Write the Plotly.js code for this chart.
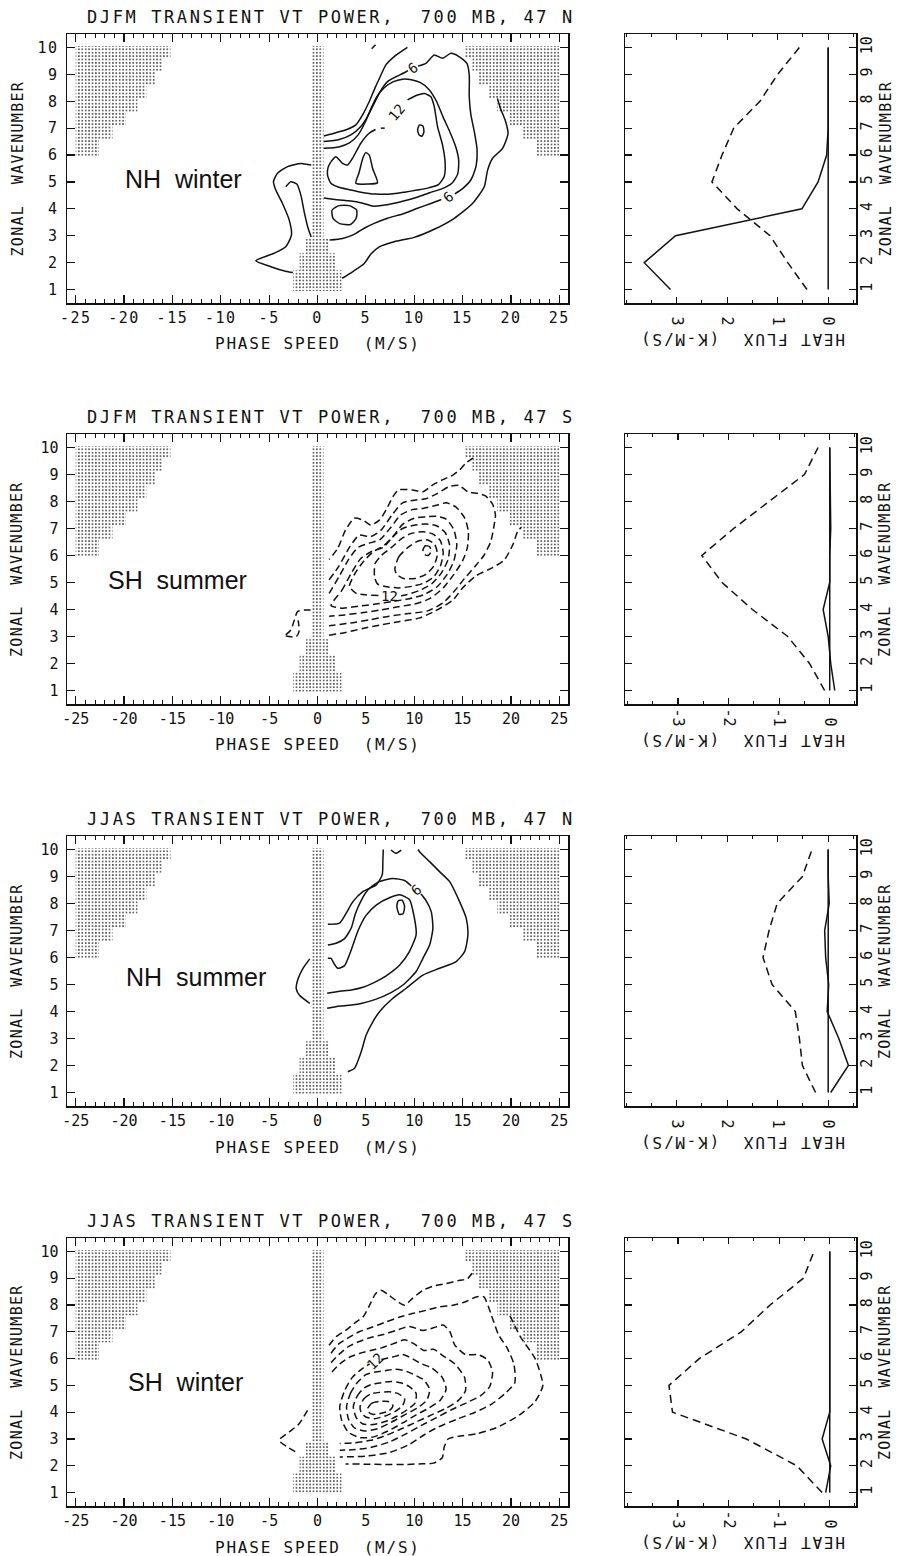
<!DOCTYPE html>
<html><head><meta charset="utf-8">
<script src="https://cdn.plot.ly/plotly-3.0.1.min.js"></script>
<style>
html,body{margin:0;padding:0;background:#fff;}
#chart{width:898px;height:1556px;}
.xtick text,.ytick text{letter-spacing:1.5px;}
text.annotation-text[data-unformatted*="TRANSIENT"]{letter-spacing:2.6px;}
text.annotation-text[data-unformatted*="SPEED"],text.annotation-text[data-unformatted*="FLUX"]{letter-spacing:1.8px;}
text.annotation-text[data-unformatted*="ZONAL"]{letter-spacing:1.3px;}
</style></head><body><div id="chart"></div><script>
// ---------------- data ----------------
const wavenumbers = [1,2,3,4,5,6,7,8,9,10];
const phaseTicks = [-25,-20,-15,-10,-5,0,5,10,15,20,25];
const phaseTickText = ['-25','-20','-15','-10','-5','0','5','10','15','20','25'];
const heatTicksPos = [0,1,2,3], heatTextPos = ['\u00a00','\u00a01','\u00a02','\u00a03'];
const heatTicksNeg = [-3,-2,-1,0], heatTextNeg = ['-3','-2','-1','\u00a00'];

const rowTitles = ['DJFM TRANSIENT VT POWER,\u00a0 700 MB, 47 N','DJFM TRANSIENT VT POWER,\u00a0 700 MB, 47 S',
                   'JJAS TRANSIENT VT POWER,\u00a0 700 MB, 47 N','JJAS TRANSIENT VT POWER,\u00a0 700 MB, 47 S'];
const seasonLabels = ['NH\u00a0 winter','SH\u00a0 summer','NH\u00a0 summer','SH\u00a0 winter'];
const seasonPos = [[-13.9,5.1],[-14.5,5.1],[-12.6,5.28],[-13.6,5.14]];

// heat flux profiles (K m/s) by wavenumber
const r1HeatDashed = [0.42,0.8,1.15,1.8,2.3,2.1,1.87,1.35,1.0,0.57];
const r1HeatSolid  = [3.12,3.64,3.02,0.52,0.2,0.03,0,0,0,0];
const r1HeatZero   = [0,0,0,0,0,0,0,0,0,0];
const r2HeatDashed = [-0.1,-0.4,-0.83,-1.53,-2.13,-2.53,-1.9,-1.2,-0.5,-0.23];
const r2HeatSolid  = [0.1,0.02,-0.03,-0.13,0.0,0.0,0.02,0.01,0,0];
const r2HeatZero   = [0,0,0,0,0,0,0,0,0,0];
const r3HeatDashed = [0.25,0.51,0.57,0.65,1.11,1.29,1.17,1.01,0.51,0.32];
const r3HeatSolid  = [-0.05,-0.4,-0.21,0.02,-0.01,0.05,0.07,-0.02,0,0];
const r3HeatZero   = [0,0,0,0,0,0,0,0,0,0];
const r4HeatDashed = [-0.15,-0.65,-1.65,-3.11,-3.18,-2.58,-1.75,-1.18,-0.52,-0.31];
const r4HeatSolid  = [-0.08,0.02,-0.15,0,0,0,0,0,0,0];
const r4HeatZero   = [0,0,0,0,0,0,0,0,0,0];

// stippled (unresolved) regions
const stairK = [10.05,9.6,9.1,8.6,8.1,7.6,7.1,6.6,5.95];
const stairC = [15.2,16.0,16.7,17.7,18.6,19.8,21.2,22.6];
const stripK = [10.05,2.9,2.35,1.72,0.95];
const stripC = [0.62,1.2,1.85,2.5];

// ---- NH winter (DJFM 47N) contours, solid ----
const nhwTopTick = [[5.6,9.95],[6.0,10.1]];
const nhwC3Left = [[-0.65,5.63],[-1.72,5.69],[-3.1,5.57],[-4.14,5.32],[-4.55,5.01],[-4.31,4.7],[-3.62,4.2],[-2.93,3.59],[-2.69,3.03],[-3.28,2.59],[-4.48,2.35],[-6.38,2.07],[-4.83,1.85],[-3.3,1.68],[-2.55,1.63]];
const nhwC6Left = [[-3.28,4.82],[-2.76,5.01],[-2.14,4.92],[-1.72,4.51],[-1.38,3.9],[-0.97,3.28],[-0.65,2.95]];
const nhwC3Top = [[0.65,6.71],[1.9,6.83],[3.1,6.96],[3.97,7.12],[4.66,7.49],[5.34,7.98],[5.93,8.48],[6.48,8.91],[7.07,9.35],[7.93,9.66],[8.79,9.88],[9.3,10.0]];
const nhwC3Right = [[2.55,1.42],[3.62,1.66],[4.83,1.97],[5.52,2.32],[6.38,2.59],[7.93,2.78],[10.0,2.94],[12.07,3.24],[14.14,3.65],[16.03,4.2],[17.24,4.82],[17.59,5.44],[18.1,5.88],[19.14,6.25],[19.7,6.8],[19.4,7.3],[18.9,7.75],[18.6,8.1]];
const nhwC6TopA = [[0.65,6.5],[2.24,6.58],[3.45,6.75],[4.48,7.06],[5.17,7.43],[5.86,7.92],[6.48,8.36],[7.24,8.73],[8.1,8.91],[8.97,9.06],[9.35,9.14]];
const nhwC6TopB = [[10.41,9.31],[11.21,9.41],[12.07,9.72],[12.93,9.6],[13.79,9.78],[14.55,9.68],[15.45,9.41],[15.69,8.98],[15.69,8.17],[15.86,7.49],[16.2,6.9],[16.5,6.2],[16.4,5.6],[15.9,5.1],[15.0,4.75],[14.2,4.56]];
const nhwC6Bottom = [[12.8,4.35],[11.72,4.2],[10.34,4.02],[8.97,3.83],[7.24,3.65],[5.86,3.46],[4.83,3.28],[3.79,3.05],[2.59,2.9],[1.25,2.84]];
const nhwC9 = [[0.65,6.25],[2.2,6.3],[3.3,6.45],[4.2,6.75],[4.9,7.2],[5.5,7.7],[6.1,8.15],[6.9,8.5],[7.8,8.72],[8.8,8.82],[9.7,8.8],[10.6,8.7],[11.5,8.45],[12.3,8.0],[13.0,7.4],[13.7,6.85],[14.3,6.3],[14.6,5.8],[14.5,5.3],[13.9,4.95],[12.9,4.75],[11.6,4.6],[10.2,4.42],[8.7,4.27],[7.2,4.15],[5.8,4.1],[4.6,4.22],[3.2,4.3],[1.8,4.35],[0.65,4.4]];
const nhwC12A = [[1.38,5.75],[1.9,5.94],[2.59,5.69],[3.1,5.63],[3.62,5.88],[4.48,6.44],[5.34,6.81],[6.0,6.95]];
const nhwC12Dash = [[6.55,7.0],[6.95,7.0]];
const nhwC12B = [[9.31,8.05],[10.34,8.23],[11.03,8.29],[11.72,8.17],[12.07,7.8],[12.41,7.06],[12.93,6.37],[13.2,5.69],[13.1,5.2],[12.5,4.9],[11.5,4.78],[10.3,4.7],[9.0,4.62],[7.6,4.55],[6.0,4.55],[4.5,4.62],[3.2,4.72],[2.2,4.8],[1.38,4.95],[1.03,5.26],[1.1,5.55],[1.38,5.75]];
const nhwPeakA = [[3.97,4.95],[4.3,5.35],[4.7,5.9],[5.0,6.09],[5.35,6.0],[5.7,5.5],[6.2,4.97],[5.2,4.92],[3.97,4.95]];
const nhwPeakB = [[10.5,6.75],[10.35,6.95],[10.55,7.12],[10.9,7.08],[11.0,6.85],[10.8,6.7],[10.5,6.75]];
const nhwPeakC = [[1.5,3.95],[2.2,4.12],[3.3,4.12],[4.05,3.95],[4.0,3.65],[3.4,3.42],[2.3,3.45],[1.6,3.65],[1.5,3.95]];

// ---- SH summer (DJFM 47S) contours, dashed ----
const shsA_bottom = [[1.2,3.05],[2.9,3.15],[4.7,3.3],[6.4,3.42],[8.4,3.55],[10.5,3.68],[12.2,3.95],[14.0,4.35],[15.0,4.8],[16.4,5.25],[18.1,5.55],[19.3,5.83],[20.2,6.4],[20.7,6.9],[21.1,7.05]];
const shsA_top = [[16.1,9.62],[15.3,9.41],[14.7,9.17],[14.0,8.98],[12.9,8.8],[11.9,8.61],[10.9,8.36],[9.8,8.43],[8.4,8.43],[7.8,8.18],[7.1,7.69],[6.4,7.31],[5.5,7.13],[4.7,7.31],[3.8,7.38],[2.9,6.94],[2.1,6.27],[1.2,5.85]];
const shsB = [[1.2,5.1],[2.2,5.6],[3.3,6.3],[4.3,6.75],[5.5,6.7],[6.6,6.95],[7.7,7.5],[8.8,7.95],[10.0,8.05],[11.2,8.1],[12.4,8.3],[13.6,8.55],[14.6,8.6],[15.6,8.35],[16.6,8.3],[17.4,8.2],[18.1,7.9],[18.4,7.5],[18.2,7.0],[17.9,6.5],[17.2,6.0],[16.3,5.6],[15.2,5.15],[14.2,4.7],[13.0,4.25],[11.4,3.95],[9.4,3.85],[7.4,3.75],[5.4,3.62],[3.4,3.5],[1.2,3.4]];
const shsC = [[1.2,4.6],[2.2,5.2],[3.2,5.85],[4.2,6.3],[5.3,6.45],[6.5,6.6],[7.6,7.05],[8.6,7.5],[9.8,7.7],[11.0,7.75],[12.2,7.85],[13.3,7.95],[14.3,7.8],[15.2,7.4],[15.6,6.9],[15.5,6.3],[15.0,5.8],[14.1,5.3],[13.0,4.8],[11.6,4.4],[10.0,4.2],[8.3,4.1],[6.5,3.98],[4.6,3.88],[2.8,3.8],[1.2,3.75]];
const shsD = [[1.4,4.15],[2.5,4.7],[3.5,5.35],[4.5,5.9],[5.6,6.15],[6.8,6.3],[7.8,6.7],[8.8,7.15],[10.0,7.38],[11.2,7.43],[12.3,7.45],[13.3,7.35],[14.1,6.95],[14.4,6.4],[14.1,5.8],[13.4,5.3],[12.4,4.85],[11.0,4.55],[9.5,4.4],[7.8,4.3],[6.0,4.2],[4.2,4.12],[2.6,4.05],[1.4,4.15]];
const shsE = [[6.3,4.52],[5.0,4.54],[4.0,4.6],[3.3,4.85],[3.9,5.35],[4.8,5.8],[5.8,6.15],[6.8,6.35],[7.8,6.7],[8.8,7.0],[10.0,7.12],[11.2,7.17],[12.3,7.1],[13.2,6.85],[13.65,6.4],[13.5,5.85],[12.8,5.35],[11.8,4.95],[10.5,4.7],[9.2,4.55],[8.5,4.5]];
const shsF = [[5.9,5.2],[5.95,5.7],[6.6,6.0],[7.6,6.28],[8.6,6.6],[9.7,6.82],[10.9,6.88],[11.9,6.8],[12.7,6.55],[13.0,6.1],[12.7,5.6],[12.0,5.2],[11.0,4.98],[9.8,4.86],[8.4,4.8],[7.0,4.85],[6.2,4.95],[5.9,5.2]];
const shsG = [[8.0,5.5],[8.4,5.95],[9.3,6.28],[10.3,6.52],[11.3,6.58],[12.1,6.42],[12.4,6.05],[12.0,5.6],[11.2,5.3],[10.1,5.15],[8.9,5.15],[8.2,5.3],[8.0,5.5]];
const shsH = [[10.9,6.2],[11.15,6.36],[11.6,6.33],[11.75,6.15],[11.45,6.0],[11.05,6.04],[10.9,6.2]];
const shsLeftA = [[-3.28,3.06],[-2.76,3.24],[-2.4,3.6],[-2.07,3.92],[-1.38,3.98],[-0.65,3.98]];
const shsLeftB = [[-3.28,3.02],[-2.76,2.99],[-2.2,2.99],[-1.9,3.2],[-2.0,3.6]];

// ---- NH summer (JJAS 47N) contours, solid ----
const nhsOuterTop = [[1.07,7.23],[2.28,7.27],[2.97,7.64],[3.66,8.07],[4.69,8.44],[6.07,8.69],[6.69,9.06],[6.76,9.6],[6.8,10.0]];
const nhsTopV = [[7.6,9.98],[8.1,9.86],[8.66,9.98]];
const nhsOuterRight = [[10.4,10.0],[10.55,9.92],[11.59,9.55],[12.62,9.18],[13.66,8.81],[14.69,8.07],[15.38,7.45],[15.55,6.83],[15.21,6.22],[14.34,5.85],[12.62,5.6],[10.9,5.35],[9.17,4.86],[7.79,4.49],[6.41,3.99],[5.72,3.62],[5.03,3.13],[4.52,2.51],[3.83,1.9],[3.14,1.77]];
const nhsLeft = [[-0.8,5.95],[-1.5,5.6],[-2.0,5.22],[-2.2,4.85],[-1.86,4.6],[-0.8,4.3]];
const nhsB1 = [[1.07,6.46],[1.93,6.53],[2.8,6.7],[3.5,7.1],[3.9,7.6],[4.5,8.1],[5.2,8.5],[6.3,8.8],[7.8,8.93],[9.0,8.85],[9.7,8.65]];
const nhsB2 = [[10.7,8.35],[11.24,8.1],[11.76,7.7],[11.93,7.08],[11.59,6.46],[10.9,5.97],[10.2,5.48],[8.9,5.0],[7.6,4.7],[6.0,4.45],[4.5,4.3],[3.0,4.22],[1.9,4.18],[1.0,4.12]];
const nhsC = [[1.07,5.97],[1.4,5.97],[1.75,5.75],[2.1,5.6],[2.8,5.7],[3.3,6.1],[3.7,6.5],[4.2,7.0],[5.0,7.55],[6.1,7.95],[7.5,8.22],[8.5,8.32],[9.5,8.15],[10.0,7.5],[10.2,6.85],[9.5,6.22],[8.5,5.72],[7.1,5.32],[6.0,5.1],[4.7,4.9],[3.5,4.8],[2.3,4.75],[1.0,4.68]];
const nhsPeak = [[8.2,7.9],[8.35,8.1],[8.75,8.12],[9.0,7.9],[8.85,7.62],[8.45,7.6],[8.2,7.9]];

// ---- SH winter (JJAS 47S) contours, dashed ----
const shwA_top = [[1.2,6.5],[1.9,6.81],[2.9,7.05],[4.0,7.37],[4.7,7.55],[5.3,7.93],[6.0,8.42],[6.55,8.55],[7.2,8.42],[8.1,8.17],[9.0,7.99],[9.8,8.24],[10.9,8.55],[11.9,8.7],[13.3,8.8],[14.7,8.92],[15.5,8.98],[16.2,9.3]];
const shwA_right = [[19.9,7.6],[21.0,6.8],[22.5,6.0],[23.3,5.0],[22.5,4.4],[20.9,3.9],[18.5,3.42],[16.5,3.2],[14.6,3.1],[13.5,3.0],[13.1,2.7],[12.9,2.3],[12.0,2.1],[10.5,2.07],[9.0,2.05],[7.0,2.05],[5.0,2.06],[2.9,2.07]];
const shwB = [[1.4,6.2],[2.2,6.55],[3.3,6.8],[4.3,7.0],[5.7,7.18],[7.1,7.37],[8.5,7.55],[9.8,7.68],[11.2,7.8],[12.6,7.93],[14.0,7.99],[15.3,8.12],[16.4,8.3],[17.2,8.3],[18.0,7.6],[18.7,6.9],[19.6,6.4],[20.3,5.8],[20.4,5.1],[19.4,4.7],[18.0,4.3],[16.3,4.0],[14.5,3.75],[12.5,3.45],[11.0,3.15],[9.5,2.8],[7.5,2.5],[5.0,2.36],[2.3,2.33]];
const shwC = [[1.4,5.85],[2.2,6.15],[3.2,6.45],[4.4,6.65],[5.6,6.8],[6.8,6.9],[8.1,7.05],[9.5,7.2],[10.9,7.05],[12.0,7.15],[13.0,7.25],[13.7,7.0],[14.2,6.5],[15.3,6.15],[16.6,6.15],[17.6,5.95],[18.1,5.5],[17.8,4.95],[16.8,4.6],[15.4,4.35],[13.9,4.1],[12.3,3.8],[10.7,3.5],[9.2,3.2],[7.5,2.9],[5.5,2.68],[3.6,2.6],[2.3,2.58]];
const shwD = [[1.5,5.5],[2.3,5.8],[3.3,6.05],[4.4,6.2],[5.5,6.3],[6.6,6.4],[7.8,6.55],[9.0,6.7],[10.0,6.55],[11.0,6.3],[12.0,6.35],[13.0,6.1],[14.2,5.8],[15.2,5.3],[15.3,4.8],[14.6,4.45],[13.3,4.15],[11.8,3.9],[10.3,3.65],[8.8,3.4],[7.2,3.15],[5.5,2.95],[3.8,2.86],[2.3,2.83]];
const shwE = [[6.6,5.97],[7.7,6.05],[8.8,6.15],[9.8,6.0],[10.8,5.8],[11.8,5.65],[12.9,5.3],[13.3,4.85],[12.7,4.45],[11.5,4.15],[10.2,3.9],[8.8,3.6],[7.3,3.3],[5.8,3.08],[4.4,3.05],[3.2,3.25],[2.5,3.7],[2.3,4.2],[2.8,4.8],[3.6,5.3],[4.6,5.62],[5.4,5.8]];
const shwF = [[3.0,4.2],[3.4,4.7],[4.1,5.1],[5.0,5.4],[6.0,5.5],[7.0,5.55],[8.0,5.6],[9.0,5.55],[10.0,5.4],[11.0,5.2],[11.6,4.85],[11.3,4.45],[10.3,4.15],[9.0,3.9],[7.6,3.62],[6.2,3.38],[4.9,3.3],[3.8,3.42],[3.2,3.75],[3.0,4.2]];
const shwG = [[3.7,4.2],[4.1,4.6],[4.8,4.9],[5.7,5.05],[6.6,5.1],[7.6,5.15],[8.6,5.1],[9.5,4.95],[10.2,4.7],[10.1,4.35],[9.3,4.1],[8.2,3.85],[7.0,3.65],[5.8,3.54],[4.7,3.56],[4.0,3.8],[3.7,4.2]];
const shwH = [[4.4,4.2],[4.8,4.5],[5.5,4.68],[6.4,4.74],[7.4,4.76],[8.3,4.7],[9.0,4.5],[8.8,4.25],[8.0,4.02],[7.0,3.86],[5.9,3.76],[5.0,3.82],[4.5,4.0],[4.4,4.2]];
const shwI = [[5.2,4.15],[5.6,4.33],[6.4,4.4],[7.3,4.4],[7.8,4.25],[7.4,4.05],[6.5,3.95],[5.7,3.92],[5.3,4.0],[5.2,4.15]];
const shwLeft = [[-1.03,4.07],[-1.9,3.57],[-2.93,3.26],[-3.97,2.95],[-3.1,2.7],[-2.3,2.53]];

// contour value labels: [row, x, y, text, angle]
const contourLabels = [[0,9.88,9.22,'6',-35],[0,13.5,4.45,'6',-40],[0,8.2,7.6,'12',-50],
                       [1,7.4,4.5,'12',0],[2,10.2,8.5,'6',-40],[3,6.0,5.9,'12',-45]];

// ---------------- drawing ----------------
const W = 898, H = 1556;
const LX = [67, 568], RX = [625, 856];
const ROWS = [[34,303],[434,704],[836,1106],[1238,1506]];
const INK = '#111';
const MONO = 'DejaVu Sans Mono, monospace';
const SANS = 'Liberation Sans, Arial, sans-serif';
const sfx = n => n === 1 ? '' : String(n);

const traces = [];
function addStipple(poly, n){
  traces.push({type:'scatter', mode:'lines', x: poly.map(p=>p[0]), y: poly.map(p=>p[1]),
    xaxis:'x'+sfx(n), yaxis:'y'+sfx(n), fill:'toself', fillcolor:'rgba(0,0,0,0)',
    line:{width:0, color:'rgba(0,0,0,0)'},
    fillpattern:{shape:'.', size:3.4, solidity:0.18, fgcolor:'#222', bgcolor:'rgba(0,0,0,0)'},
    hoverinfo:'skip', showlegend:false});
}
function addLine(pts, n, dashed){
  traces.push({type:'scatter', mode:'lines', x: pts.map(p=>p[0]), y: pts.map(p=>p[1]),
    xaxis:'x'+sfx(n), yaxis:'y'+sfx(n),
    line:{color:INK, width:1.5, dash: dashed ? '7px,4px' : 'solid', shape:'spline', smoothing:0.6},
    hoverinfo:'skip', showlegend:false});
}
function addProfile(vals, n, dashed){
  traces.push({type:'scatter', mode:'lines', x: vals, y: wavenumbers,
    xaxis:'x'+sfx(n), yaxis:'y'+sfx(n),
    line:{color:INK, width:1.5, dash: dashed ? '8px,5px' : 'solid'},
    hoverinfo:'skip', showlegend:false});
}
function stairPolygon(sign){
  const pts = [[sign*25, stairK[0]]];
  for (let i = 0; i < stairC.length; i++){ pts.push([sign*stairC[i], stairK[i]]); pts.push([sign*stairC[i], stairK[i+1]]); }
  pts.push([sign*25, stairK[stairK.length-1]]);
  return pts;
}
function stripPolygon(){
  const right = [];
  for (let i = 0; i < stripC.length; i++){ right.push([stripC[i], stripK[i]]); right.push([stripC[i], stripK[i+1]]); }
  const left = right.slice().reverse().map(p => [-p[0], p[1]]);
  return right.concat(left);
}

[1,3,5,7].forEach(n => { addStipple(stairPolygon(-1), n); addStipple(stairPolygon(1), n); addStipple(stripPolygon(), n); });

[nhwTopTick,nhwC3Left,nhwC6Left,nhwC3Top,nhwC3Right,nhwC6TopA,nhwC6TopB,nhwC6Bottom,nhwC9,nhwC12A,nhwC12Dash,nhwC12B,nhwPeakA,nhwPeakB,nhwPeakC].forEach(c => addLine(c, 1, false));
[shsA_bottom,shsA_top,shsB,shsC,shsD,shsE,shsF,shsG,shsH,shsLeftA,shsLeftB].forEach(c => addLine(c, 3, true));
[nhsOuterTop,nhsTopV,nhsOuterRight,nhsLeft,nhsB1,nhsB2,nhsC,nhsPeak].forEach(c => addLine(c, 5, false));
[shwA_top,shwA_right,shwB,shwC,shwD,shwE,shwF,shwG,shwH,shwI,shwLeft].forEach(c => addLine(c, 7, true));

[[r1HeatDashed,r1HeatSolid,r1HeatZero],[r2HeatDashed,r2HeatSolid,r2HeatZero],
 [r3HeatDashed,r3HeatSolid,r3HeatZero],[r4HeatDashed,r4HeatSolid,r4HeatZero]].forEach((s, r) => {
  const m = 2*r + 2;
  addProfile(s[0], m, true); addProfile(s[1], m, false); addProfile(s[2], m, false);
});

const heatRanges = [[4.02,-0.55],[-4.05,0.52],[4.02,-0.55],[-4.05,0.52]];
const heatTicks = [heatTicksPos, heatTicksNeg, heatTicksPos, heatTicksNeg];
const heatTexts = [heatTextPos, heatTextNeg, heatTextPos, heatTextNeg];

const frame = {showline:true, linewidth:1.5, linecolor:INK, mirror:'ticks', showgrid:false, zeroline:false,
  ticks:'inside', tickcolor:INK, tickwidth:1.2, fixedrange:true, tickfont:{family:MONO, size:15, color:INK}};

const layout = {width:W, height:H, margin:{l:0,r:0,t:0,b:0}, paper_bgcolor:'#fff', plot_bgcolor:'#fff',
  showlegend:false, font:{family:MONO, color:INK}, annotations:[]};

function ann(o){ layout.annotations.push(Object.assign({showarrow:false, xanchor:'center', yanchor:'middle'}, o)); }

ROWS.forEach(([T,B], r) => {
  const n = 2*r + 1, m = 2*r + 2;
  const yd = [1 - B/H, 1 - T/H];
  layout['xaxis'+sfx(n)] = Object.assign({}, frame, {domain:[LX[0]/W, LX[1]/W], anchor:'y'+sfx(n),
    range:[-25.9,25.9], tickmode:'array', tickvals:phaseTicks, ticktext:phaseTickText, ticklen:8,
    minor:{tick0:0, dtick:1, ticks:'inside', ticklen:4, tickwidth:1, tickcolor:INK, showgrid:false}});
  layout['yaxis'+sfx(n)] = Object.assign({}, frame, {domain:yd, anchor:'x'+sfx(n), range:[0.5,10.5],
    tickmode:'array', tickvals:wavenumbers, ticklen:8, ticklabelstandoff:4});
  layout['xaxis'+sfx(m)] = Object.assign({}, frame, {domain:[RX[0]/W, RX[1]/W], anchor:'y'+sfx(m),
    range:heatRanges[r], tickmode:'array', tickvals:heatTicks[r], ticktext:heatTexts[r], tickangle:90, ticklen:6,
    minor:{tick0:0, dtick:0.5, ticks:'inside', ticklen:3, tickwidth:1, tickcolor:INK, showgrid:false}});
  layout['yaxis'+sfx(m)] = Object.assign({}, frame, {domain:yd, anchor:'x'+sfx(m), range:[0.5,10.5], side:'right',
    tickmode:'array', tickvals:wavenumbers, tickangle:-90, ticklen:7, ticklabelstandoff:-4});

  ann({xref:'paper', yref:'paper', x:331/W, y:1-(T-17)/H, text:rowTitles[r], font:{family:MONO, size:17, color:INK}});
  ann({xref:'paper', yref:'paper', x:317.5/W, y:1-(B+41)/H, text:'PHASE SPEED\u00a0 (M/S)', font:{family:MONO, size:16, color:INK}});
  ann({xref:'paper', yref:'paper', x:17/W, y:1-((T+B)/2)/H, text:'ZONAL\u00a0 WAVENUMBER', textangle:-90, font:{family:MONO, size:15, color:INK}});
  ann({xref:'paper', yref:'paper', x:742/W, y:1-(B+37)/H, text:'HEAT FLUX\u00a0 (K-M/S)', textangle:180, font:{family:MONO, size:16, color:INK}});
  ann({xref:'paper', yref:'paper', x:885/W, y:1-((T+B)/2)/H, text:'ZONAL\u00a0 WAVENUMBER', textangle:-90, font:{family:MONO, size:15, color:INK}});
  ann({xref:'x'+sfx(n), yref:'y'+sfx(n), x:seasonPos[r][0], y:seasonPos[r][1], text:seasonLabels[r], font:{family:SANS, size:25, color:INK}});
});
contourLabels.forEach(([r,x,y,t,a]) => {
  const n = 2*r + 1;
  ann({xref:'x'+sfx(n), yref:'y'+sfx(n), x:x, y:y, text:t, textangle:a, font:{family:MONO, size:14, color:INK}});
});

Plotly.newPlot('chart', traces, layout, {displayModeBar:false, staticPlot:true});
</script></body></html>
